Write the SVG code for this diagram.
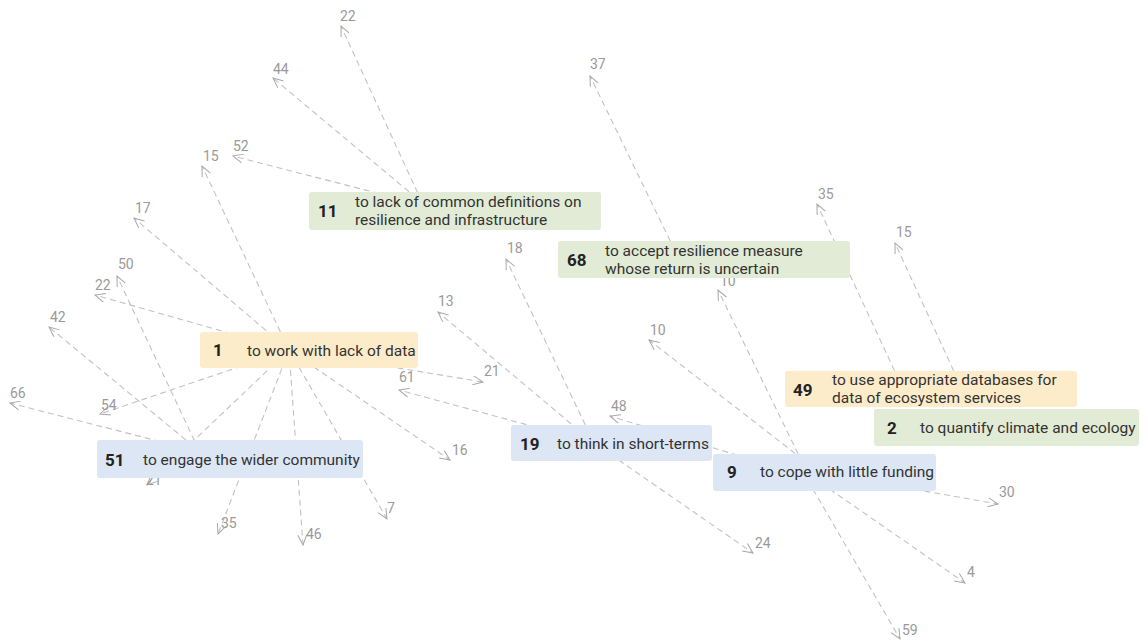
<svg xmlns="http://www.w3.org/2000/svg" width="1148" height="641" viewBox="0 0 1148 641">
<defs>
<marker id="arr" viewBox="0 0 12 10" refX="11" refY="5" markerWidth="12" markerHeight="10" markerUnits="userSpaceOnUse" orient="auto">
<path d="M1,0.5 L11,5 L1,9.5" fill="none" stroke="#a8a8a8" stroke-width="1"/>
</marker>
<style>
.e{stroke:#c2c2c2;stroke-width:1.1;stroke-dasharray:6 4;fill:none;marker-end:url(#arr)}
.lb{font-family:Roboto,"Liberation Sans",sans-serif;font-size:14px;fill:#9a9a9a}
.g{fill:#e2ebd6}
.y{fill:#fdecc9}
.b{fill:#dce6f5}
.num{font-family:Roboto,"Liberation Sans",sans-serif;font-size:17px;font-weight:bold;fill:#222}
.tx{font-family:Roboto,"Liberation Sans",sans-serif;font-size:15.5px;fill:#333}
</style>
</defs>
<rect width="1148" height="641" fill="#ffffff"/>
<g id="connectors">
<line class="e" x1="426" y1="211" x2="341" y2="26"/>
<line class="e" x1="432" y1="211" x2="273" y2="78"/>
<line class="e" x1="447" y1="211" x2="233" y2="156"/>
<line class="e" x1="679" y1="259" x2="590" y2="76"/>
<line class="e" x1="289" y1="350" x2="202" y2="166"/>
<line class="e" x1="289" y1="350" x2="134" y2="218"/>
<line class="e" x1="289" y1="350" x2="95" y2="295"/>
<line class="e" x1="289" y1="350" x2="100" y2="414"/>
<line class="e" x1="289" y1="350" x2="147" y2="485"/>
<line class="e" x1="289" y1="350" x2="218" y2="534"/>
<line class="e" x1="289" y1="350" x2="303" y2="545"/>
<line class="e" x1="289" y1="350" x2="387" y2="519"/>
<line class="e" x1="289" y1="350" x2="450" y2="460"/>
<line class="e" x1="289" y1="350" x2="483" y2="382"/>
<line class="e" x1="203" y1="459" x2="117" y2="276"/>
<line class="e" x1="209" y1="459" x2="49" y2="327"/>
<line class="e" x1="228" y1="459" x2="10" y2="403"/>
<line class="e" x1="594" y1="443" x2="506" y2="259"/>
<line class="e" x1="594" y1="443" x2="438" y2="312"/>
<line class="e" x1="594" y1="443" x2="399" y2="390"/>
<line class="e" x1="594" y1="443" x2="753" y2="553"/>
<line class="e" x1="819" y1="472" x2="649" y2="340"/>
<line class="e" x1="807" y1="472" x2="718" y2="290"/>
<line class="e" x1="795" y1="473" x2="610" y2="416"/>
<line class="e" x1="816" y1="472" x2="998" y2="504"/>
<line class="e" x1="805" y1="472" x2="965" y2="583"/>
<line class="e" x1="803" y1="472" x2="900" y2="639"/>
<line class="e" x1="903" y1="389" x2="817" y2="204"/>
<line class="e" x1="962" y1="389" x2="895" y2="243"/>
<text class="lb" x="340" y="21">22</text>
<text class="lb" x="273" y="74">44</text>
<text class="lb" x="233" y="151">52</text>
<text class="lb" x="203" y="161">15</text>
<text class="lb" x="135" y="213">17</text>
<text class="lb" x="118" y="269">50</text>
<text class="lb" x="95" y="290">22</text>
<text class="lb" x="50" y="322">42</text>
<text class="lb" x="10" y="398">66</text>
<text class="lb" x="101" y="410">54</text>
<text class="lb" x="146" y="485">21</text>
<text class="lb" x="399" y="382">61</text>
<text class="lb" x="484" y="376">21</text>
<text class="lb" x="438" y="306">13</text>
<text class="lb" x="507" y="253">18</text>
<text class="lb" x="590" y="69">37</text>
<text class="lb" x="818" y="199">35</text>
<text class="lb" x="896" y="237">15</text>
<text class="lb" x="650" y="335">10</text>
<text class="lb" x="720" y="286">10</text>
<text class="lb" x="611" y="411">48</text>
<text class="lb" x="452" y="455">16</text>
<text class="lb" x="387" y="513">7</text>
<text class="lb" x="306" y="539">46</text>
<text class="lb" x="221" y="528">35</text>
<text class="lb" x="755" y="548">24</text>
<text class="lb" x="999" y="497">30</text>
<text class="lb" x="967" y="577">4</text>
<text class="lb" x="902" y="635">59</text>
</g>
<g id="node-11">
<rect class="g" x="309" y="192" width="292" height="38" rx="3"/>
<text class="num" x="318" y="217">11</text>
<text class="tx" x="355" y="207">to lack of common definitions on</text>
<text class="tx" x="355" y="225">resilience and infrastructure</text>
</g>
<g id="node-68">
<rect class="g" x="558" y="241" width="292" height="37" rx="3"/>
<text class="num" x="567" y="266">68</text>
<text class="tx" x="605" y="256">to accept resilience measure</text>
<text class="tx" x="605" y="274">whose return is uncertain</text>
</g>
<g id="node-1">
<rect class="y" x="200" y="332" width="218" height="36" rx="3"/>
<text class="num" x="213" y="356">1</text>
<text class="tx" x="247" y="356">to work with lack of data</text>
</g>
<g id="node-51">
<rect class="b" x="97" y="440" width="266" height="38" rx="3"/>
<text class="num" x="105" y="466">51</text>
<text class="tx" x="143" y="465">to engage the wider community</text>
</g>
<g id="node-19">
<rect class="b" x="511" y="425" width="201" height="36" rx="3"/>
<text class="num" x="520" y="450">19</text>
<text class="tx" x="557" y="449">to think in short-terms</text>
</g>
<g id="node-9">
<rect class="b" x="713" y="454" width="223" height="37" rx="3"/>
<text class="num" x="727" y="478">9</text>
<text class="tx" x="760" y="477">to cope with little funding</text>
</g>
<g id="node-49">
<rect class="y" x="785" y="371" width="292" height="36" rx="3"/>
<text class="num" x="793" y="396">49</text>
<text class="tx" x="832" y="385">to use appropriate databases for</text>
<text class="tx" x="832" y="403">data of ecosystem services</text>
</g>
<g id="node-2">
<rect class="g" x="874" y="409" width="265" height="37" rx="3"/>
<text class="num" x="887" y="434">2</text>
<text class="tx" x="920" y="433">to quantify climate and ecology</text>
</g>
</svg>
